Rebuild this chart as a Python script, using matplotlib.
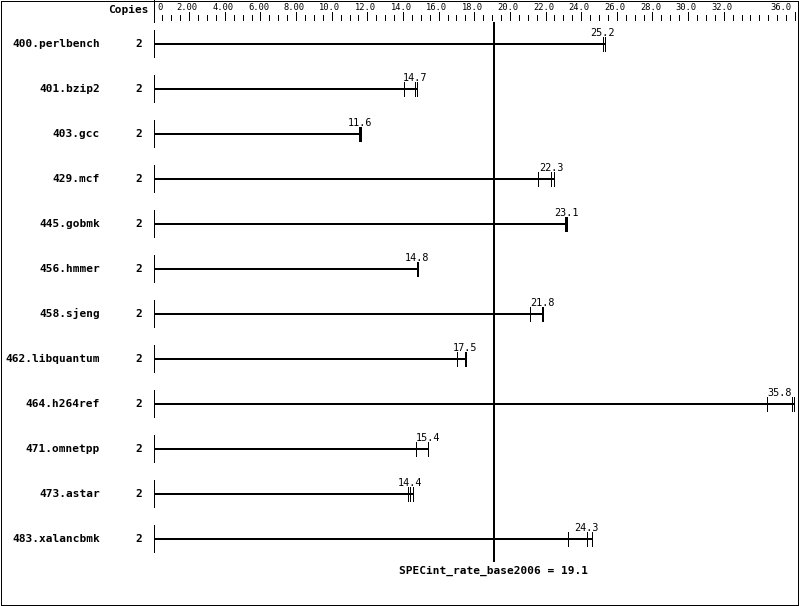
import matplotlib
matplotlib.use("Agg")
import matplotlib.pyplot as plt
from matplotlib.patches import Rectangle

benchmarks = ['400.perlbench', '401.bzip2', '403.gcc', '429.mcf', '445.gobmk',
              '456.hmmer', '458.sjeng', '462.libquantum', '464.h264ref',
              '471.omnetpp', '473.astar', '483.xalancbmk']
copies = [2, 2, 2, 2, 2, 2, 2, 2, 2, 2, 2, 2]
ratios = [25.2, 14.7, 11.6, 22.3, 23.1, 14.8, 21.8, 17.5, 35.8, 15.4, 14.4, 24.3]
runs = [
    [25.20, 25.20, 25.31],
    [14.07, 14.67, 14.79],
    [11.56, 11.60, 11.62],
    [21.59, 22.33, 22.47],
    [23.12, 23.15, 23.20],
    [14.76, 14.80, 14.82],
    [21.13, 21.82, 21.87],
    [17.05, 17.48, 17.54],
    [34.41, 35.84, 35.94],
    [14.71, 15.42, 15.42],
    [14.26, 14.39, 14.55],
    [23.24, 24.31, 24.59],
]
overall = 19.1
overall_label = "SPECint_rate_base2006 = 19.1"
tick_values = [0, 2, 4, 6, 8, 10, 12, 14, 16, 18, 20, 22, 24, 26, 28, 30, 32, 36]
tick_labels = ['0', '2.00', '4.00', '6.00', '8.00', '10.0', '12.0', '14.0', '16.0',
               '18.0', '20.0', '22.0', '24.0', '26.0', '28.0', '30.0', '32.0', '36.0']
xmax = 36.0

W, H = 799, 606
X0, X1 = 153.5, 795.0          # pixel positions of 0 and xmax
ROW0, ROWH = 44.0, 45.0        # first row centre and row spacing (pixels)
kx = (X1 - X0) / xmax

fig = plt.figure(figsize=(W / 100, H / 100), dpi=100)
fig.patch.set_facecolor('white')
ax = fig.add_axes([X0 / W, 0, (X1 - X0) / W, 1])
ax.set_xlim(0, xmax)
ax.set_ylim((H - ROW0) / ROWH, -ROW0 / ROWH)
ax.axis('off')

def dy(p):
    return p / ROWH

def ypx(p):
    return (p - ROW0) / ROWH

def dx(p):
    return p / kx

mono = 'DejaVu Sans Mono'
thin = 0.72
thick = 1.44

# border
fig.add_artist(Rectangle((0.5 / W, 1.5 / H), 797 / W, 604 / H, transform=fig.transFigure,
                         fill=False, lw=thin, edgecolor='black', antialiased=False))

# top scale
ax.plot([0, 0], [ypx(0), ypx(22)], color='black', lw=thin, antialiased=False, clip_on=False)
minor = [i * 0.5 for i in range(1, int(xmax * 2) + 1)]
for v in minor:
    top = 11.5 if v in tick_values else 14.5
    ax.plot([v, v], [ypx(top), ypx(19.5)], color='black', lw=thin, antialiased=False, clip_on=False)
for v, lab in zip(tick_values, tick_labels):
    if v == 0:
        ax.text(v + dx(3.5), ypx(10), lab, ha='left', va='baseline', fontsize=6.3, family=mono)
    elif v == xmax:
        ax.text(v - dx(3.3), ypx(10), lab, ha='right', va='baseline', fontsize=6.3, family=mono)
    else:
        ax.text(v - dx(2), ypx(10), lab, ha='center', va='baseline', fontsize=6.3, family=mono)

ax.text(-dx(153.5 - 148.5), ypx(13.3), 'Copies', ha='right', va='baseline',
        fontsize=8, family=mono, fontweight='bold', clip_on=False)

# rows
for i, (name, c, r, rr) in enumerate(zip(benchmarks, copies, ratios, runs)):
    ax.text(-dx(153.5 - 100), i + dy(3), name, ha='right', va='baseline',
            fontsize=8, family=mono, fontweight='bold', clip_on=False)
    ax.text(-dx(153.5 - 138.5), i + dy(3), str(c), ha='center', va='baseline',
            fontsize=8, family=mono, fontweight='bold', clip_on=False)
    ax.plot([0, 0], [i - dy(14), i + dy(13)], color='black', lw=thin, antialiased=False, clip_on=False)
    ax.plot([0, max(rr)], [i, i], color='black', lw=thick, antialiased=False,
            solid_capstyle='butt', clip_on=False)
    for v in rr:
        ax.plot([v, v], [i - dy(7), i + dy(7)], color='black', lw=thin, antialiased=False, clip_on=False)
    med = sorted(rr)[1]
    if med + dx(13) > xmax:
        ax.text(xmax - dx(3.5), i - dy(8.3), f'{r:.1f}', ha='right', va='baseline',
                fontsize=7.3, family=mono, clip_on=False)
    else:
        ax.text(med, i - dy(8.3), f'{r:.1f}', ha='center', va='baseline',
                fontsize=7.3, family=mono, clip_on=False)

# overall line
ax.plot([overall, overall], [ypx(22), ypx(562)], color='black', lw=thick,
        antialiased=False, solid_capstyle='butt', clip_on=False)
ax.text(overall, ypx(574), overall_label, ha='center', va='baseline',
        fontsize=8, family=mono, fontweight='bold', clip_on=False)

fig.savefig('out.png', dpi=100, facecolor='white')
